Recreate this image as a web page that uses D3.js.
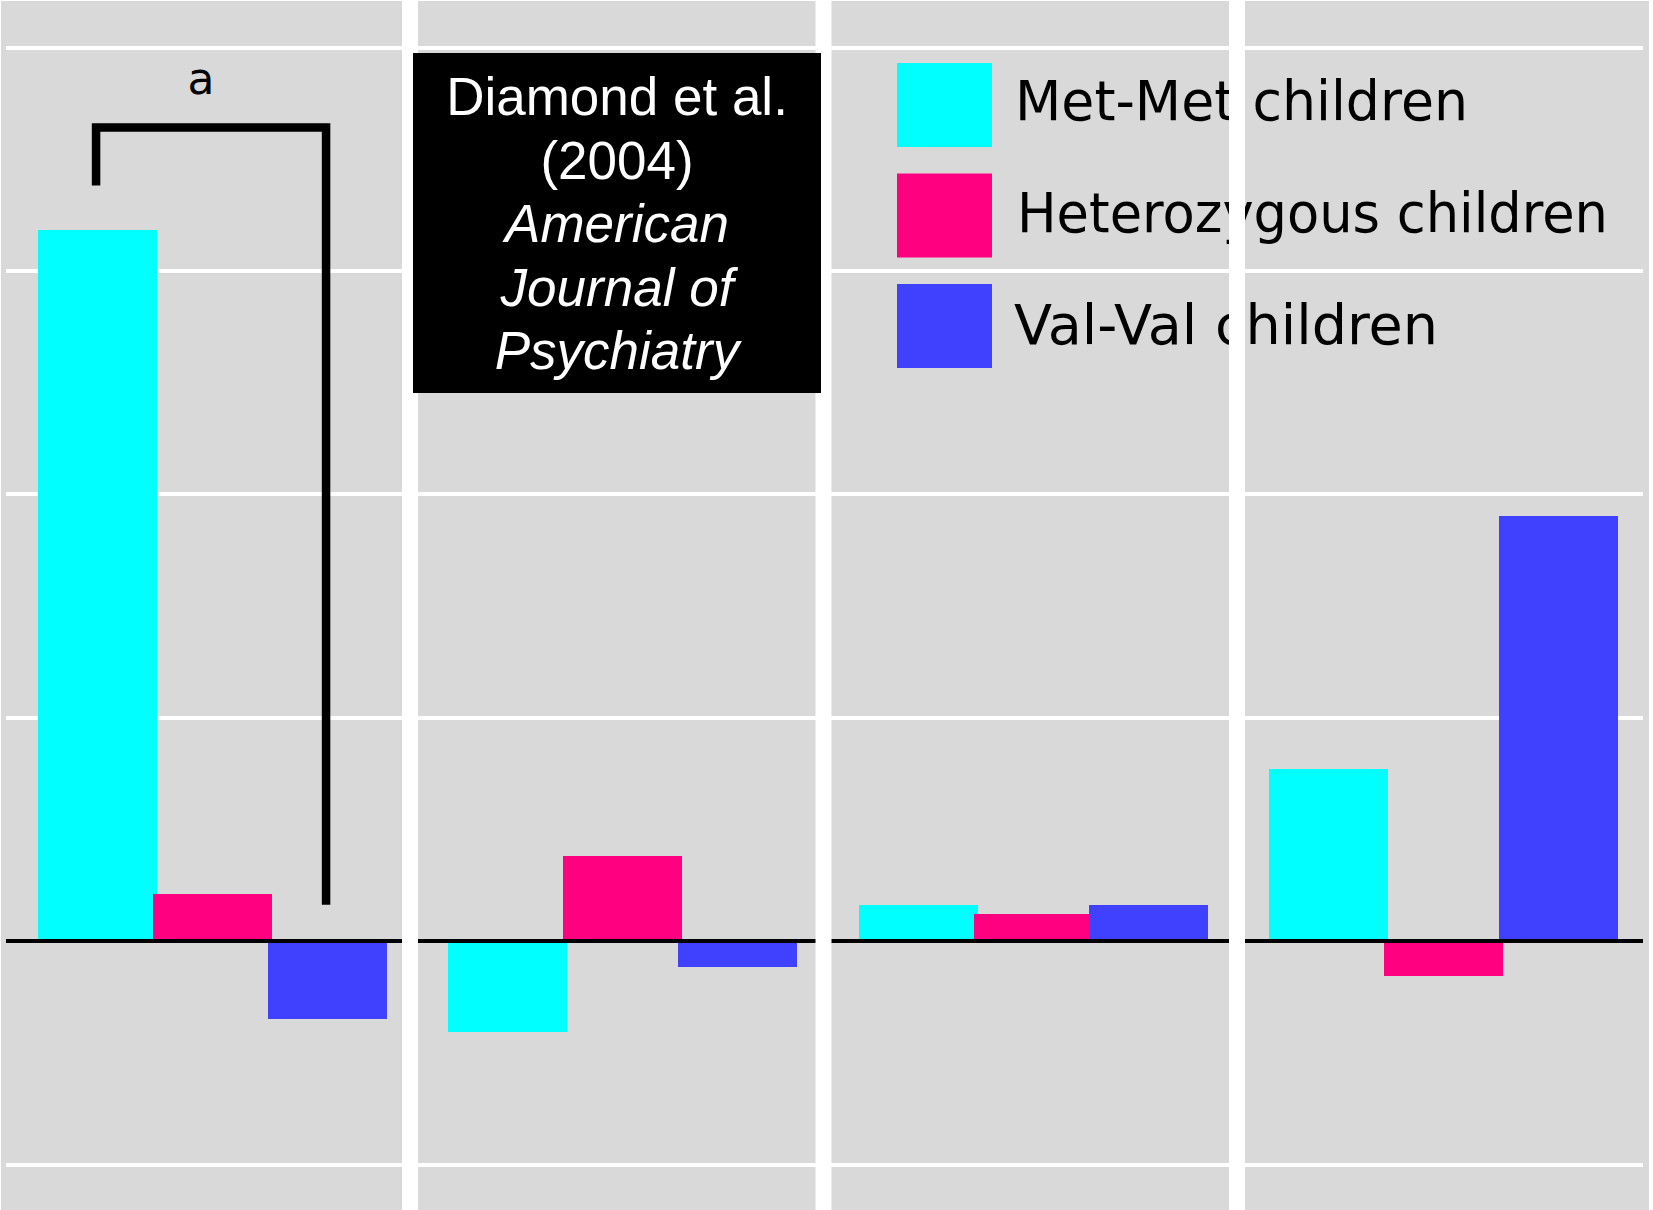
<!DOCTYPE html>
<html>
<head>
<meta charset="utf-8">
<script src="https://cdn.jsdelivr.net/npm/d3@7"></script>
<style>
  html, body { margin: 0; padding: 0; background: #ffffff; overflow: hidden; }
  svg { display: block; }
</style>
</head>
<body>
<svg id="chart"></svg>
<script>
// ---- data -------------------------------------------------------------
const measures = ["Measure 1", "Measure 2", "Measure 3", "Measure 4"];
const seriesNames = ["Met-Met children", "Heterozygous children", "Val-Val children"];
const seriesColors = ["#00FFFF", "#FF0080", "#4040FF"];

// standardised scores per measure, one array per genotype group
const metMet       = [3.18, -0.41, 0.16, 0.77];
const heterozygous = [0.21,  0.38, 0.12, -0.16];
const valVal       = [-0.35, -0.12, 0.16, 1.90];

const gridTicks = [-1, 0, 1, 2, 3, 4];

const titleLines  = ["Diamond et al.", "(2004)", "American", "Journal of", "Psychiatry"];
const titleItalic = [false, false, true, true, true];

// significance bracket in the first measure
const bracketMeasure = "Measure 1";
const bracketFrom = "Met-Met children";
const bracketTo = "Val-Val children";
const bracketLabel = "a";
const bracketLevels = [3.38, 3.64, 0.16]; // left leg end, bar of the bracket, right leg end

// ---- layout -----------------------------------------------------------
const W = 1653, H = 1210;
const svg = d3.select("#chart").attr("width", W).attr("height", H);

svg.append("rect").attr("width", W).attr("height", H).attr("fill", "#ffffff");
svg.append("rect")
  .attr("x", 1).attr("y", 1)
  .attr("width", 1648).attr("height", H - 1)
  .attr("fill", "#D9D9D9");

const y = d3.scaleLinear().domain([-1, 4]).range([1164, 47]);
const xPanel = d3.scaleBand().domain(measures).range([6.75, 1649.25]);
const xSeries = d3.scaleBand().domain(seriesNames).range([-172.5, 172.5]);
const barW = 119;
const plotLeft = 6, plotRight = 1643;

const panelCenter = m => xPanel(m) + xPanel.bandwidth() / 2;
const seriesCenter = (m, s) => panelCenter(m) + xSeries(s) + xSeries.bandwidth() / 2;

// white horizontal gridlines
const grid = svg.append("g")
  .attr("transform", `translate(${plotLeft},0)`)
  .call(d3.axisRight(y).tickValues(gridTicks.filter(t => t !== 0))
    .tickSize(plotRight - plotLeft).tickFormat(""));
grid.select(".domain").remove();
grid.selectAll(".tick line")
  .attr("stroke", "#ffffff").attr("stroke-width", 4)
  .attr("shape-rendering", "crispEdges");

// bars
const values = [metMet, heterozygous, valVal];
const bars = measures.flatMap((m, i) =>
  seriesNames.map((s, j) => ({ m, s, v: values[j][i], color: seriesColors[j] })));

svg.append("g").selectAll("rect")
  .data(bars)
  .join("rect")
  .attr("x", d => seriesCenter(d.m, d.s) - barW / 2)
  .attr("width", barW)
  .attr("y", d => y(Math.max(0, d.v)))
  .attr("height", d => Math.abs(y(d.v) - y(0)))
  .attr("fill", d => d.color)
  .attr("shape-rendering", "crispEdges");

// zero line
svg.append("line")
  .attr("x1", plotLeft).attr("x2", plotRight)
  .attr("y1", y(0)).attr("y2", y(0))
  .attr("stroke", "#000000").attr("stroke-width", 4)
  .attr("shape-rendering", "crispEdges");

// significance bracket
const bx1 = seriesCenter(bracketMeasure, bracketFrom) - 1;
const bx2 = seriesCenter(bracketMeasure, bracketTo) - 1;
svg.append("path")
  .attr("d", `M${bx1},${y(bracketLevels[0])}V${y(bracketLevels[1])}H${bx2}V${y(bracketLevels[2])}`)
  .attr("fill", "none")
  .attr("stroke", "#000000")
  .attr("stroke-width", 8.5)
  .attr("stroke-linejoin", "miter")
  .attr("stroke-linecap", "butt");
svg.append("text")
  .attr("x", (bx1 + bx2) / 2 - 10)
  .attr("y", y(bracketLevels[1]) - 33)
  .attr("text-anchor", "middle")
  .attr("font-family", "'DejaVu Sans', sans-serif")
  .attr("font-size", 44)
  .attr("fill", "#000000")
  .text(bracketLabel);

// legend: tall, narrow lettering squeezed to each label's run length
const legendRun = [453, 591, 424];
const legendStart = [1015, 1017, 1014];
const legend = svg.append("g");
seriesNames.forEach((name, i) => {
  const top = 63 + i * 110.5;
  legend.append("rect")
    .attr("x", 897).attr("y", top)
    .attr("width", 95).attr("height", 84)
    .attr("fill", seriesColors[i]);
  legend.append("text")
    .attr("x", legendStart[i])
    .attr("y", 120 + i * 112)
    .attr("textLength", legendRun[i])
    .attr("lengthAdjust", "spacingAndGlyphs")
    .attr("font-family", "'DejaVu Sans', sans-serif")
    .attr("font-size", 56)
    .attr("fill", "#000000")
    .text(name);
});

// white gaps between the measure panels
svg.append("g").selectAll("rect")
  .data(d3.range(measures.length - 1))
  .join("rect")
  .attr("x", i => 410 + i * 413.5 - 8)
  .attr("y", 0)
  .attr("width", 16)
  .attr("height", H)
  .attr("fill", "#ffffff");

// citation box
const box = svg.append("g");
box.append("rect")
  .attr("x", 413).attr("y", 53)
  .attr("width", 408).attr("height", 340)
  .attr("fill", "#000000");
box.selectAll("text")
  .data(titleLines)
  .join("text")
  .attr("x", 617)
  .attr("y", (d, i) => 115 + i * 63.5)
  .attr("text-anchor", "middle")
  .attr("font-family", "'Liberation Sans', Arial, sans-serif")
  .attr("font-size", 53)
  .attr("font-style", (d, i) => titleItalic[i] ? "italic" : "normal")
  .attr("fill", "#ffffff")
  .text(d => d);
</script>
</body>
</html>
